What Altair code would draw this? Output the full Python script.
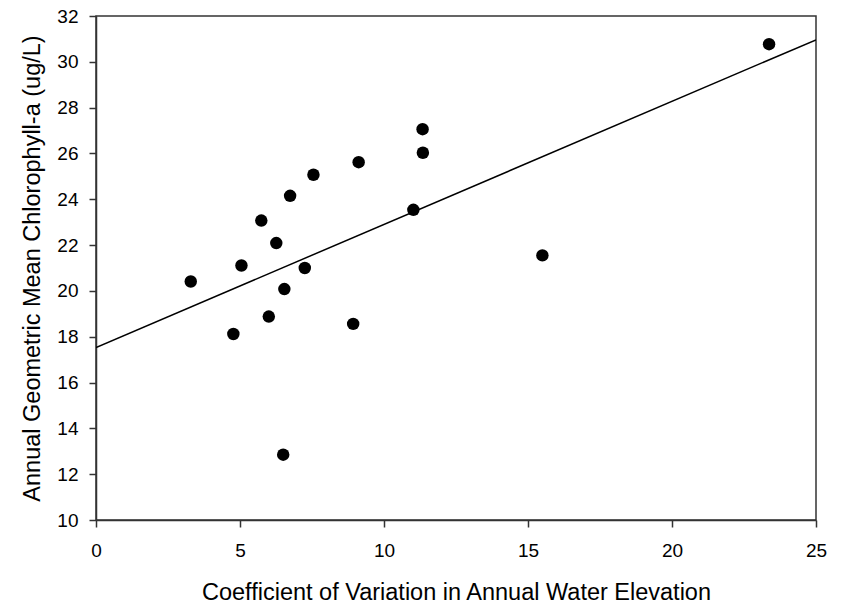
import altair as alt
import pandas as pd

cv = [3.29, 5.05, 5.74, 6.26, 6.74, 7.55, 9.12, 7.25, 6.54, 11.02, 11.34, 11.35, 15.50, 23.37, 4.77, 6.00, 8.93, 6.50]
chl = [20.41, 21.11, 23.07, 22.09, 24.15, 25.07, 25.62, 21.00, 20.08, 23.54, 27.06, 26.03, 21.55, 30.77, 18.12, 18.88, 18.56, 12.85]

fit_x = [0, 25]
fit_y = [17.53, 30.96]

pts = pd.DataFrame({"cv": cv, "chl": chl})
fit = pd.DataFrame({"cv": fit_x, "chl": fit_y})

FONT = "Liberation Sans"

xscale = alt.Scale(domain=[0, 25], nice=False, zero=False)
yscale = alt.Scale(domain=[10, 32], nice=False, zero=False)

xaxis = alt.Axis(values=[0, 5, 10, 15, 20, 25], title="Coefficient of Variation in Annual Water Elevation",
                 grid=False, tickSize=7, labelPadding=14, titlePadding=20, labelFlush=False)
yaxis = alt.Axis(values=list(range(10, 33, 2)), title="Annual Geometric Mean Chlorophyll-a (ug/L)",
                 grid=False, tickSize=7, labelPadding=11, titlePadding=12, labelFlush=False)

points = alt.Chart(pts).mark_circle(size=155, color="black", opacity=1).encode(
    x=alt.X("cv:Q", scale=xscale, axis=xaxis),
    y=alt.Y("chl:Q", scale=yscale, axis=yaxis),
)

line = alt.Chart(fit).mark_line(color="black", strokeWidth=1.5, clip=True).encode(
    x=alt.X("cv:Q", scale=xscale),
    y=alt.Y("chl:Q", scale=yscale),
)

chart = alt.layer(line, points).properties(
    width=720, height=504,
    autosize=alt.AutoSizeParams(type="none"),
    padding={"left": 96, "top": 16, "right": 26, "bottom": 86},
).configure(
    background="white"
).configure_view(
    stroke="#333333", strokeWidth=1.5
).configure_axis(
    domainColor="#333333", domainWidth=1.5, tickColor="#333333", tickWidth=1.5,
    labelFont=FONT, titleFont=FONT, labelFontSize=19, titleFontSize=23.5,
    labelColor="black", titleColor="black", titleFontWeight="normal",
)

chart.save("out.html", embed_options={"renderer": "svg", "actions": False})
